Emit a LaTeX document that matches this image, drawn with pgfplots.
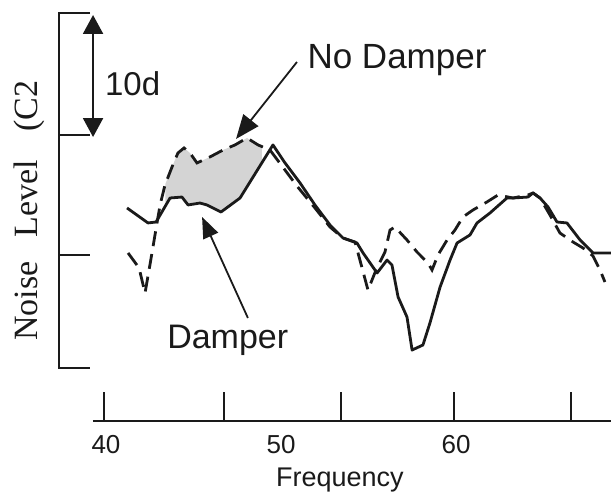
\documentclass[border=0pt]{standalone}
\usepackage{fontspec}
\setmainfont{Liberation Serif}
\setsansfont{Liberation Sans}
\usepackage{pgfplots}
\pgfplotsset{compat=1.18}
\usepgfplotslibrary{fillbetween}
\usetikzlibrary{arrows.meta}

\definecolor{ink}{RGB}{26,26,26}
\definecolor{gapgray}{RGB}{212,212,212}

\begin{document}
\begin{tikzpicture}
\begin{axis}[
  scale only axis,
  width=518bp, height=408bp,
  xmin=39.257, xmax=68.857,
  ymin=-13.833, ymax=20.167,
  axis x line=bottom, axis y line=none,
  axis line style={-, line width=2.2bp, ink},
  clip=false,
  tick align=inside,
  major tick length=29bp,
  xtick={39.89,46.74,53.43,59.89,66.57},
  xticklabels={,,,,},
  xtick style={line width=2.2bp, ink},
  extra x ticks={40,50,60},
  extra x tick labels={40,50,60},
  extra x tick style={major tick length=0pt},
  xticklabel style={font=\sffamily\fontsize{26bp}{30bp}\selectfont, text=ink,
    inner sep=0pt, anchor=north, yshift=-14bp},
  ytick=\empty,
]
\addplot[name path=nodamp, ink, line width=2.8bp, dash pattern=on 15bp off 8bp] coordinates {
  (41.26,0.17) (41.89,-1.08) (42.23,-3.17) (42.51,-0.83) (42.80,1.67)
  (43.09,4.17) (43.37,5.83) (43.77,7.33) (44.11,8.50) (44.46,8.92)
  (44.80,8.50) (45.20,7.67) (45.94,8.17) (46.69,8.75) (47.37,9.17)
  (48.06,9.75) (48.69,9.17) (49.37,8.75) (50.23,7.08) (50.91,5.75)
  (51.94,3.92) (52.80,2.33) (53.54,1.42) (54.23,1.08) (54.51,-0.42)
  (54.97,-2.92) (55.43,-1.25) (55.94,0.25) (56.23,2.08) (56.51,2.33)
  (57.20,1.25) (57.77,0.25) (58.40,-0.67) (58.63,-1.25) (58.97,0.00)
  (59.49,1.25) (59.94,2.08) (60.40,3.17) (60.97,3.75) (61.77,4.42)
  (62.40,5.00) (63.26,4.75) (64.11,5.00) (64.40,5.17) (64.80,4.75)
  (65.37,3.33) (65.94,1.83) (66.69,1.08) (67.26,0.58) (67.83,-0.08)
  (68.23,-1.25) (68.51,-2.25)
};
\addplot[name path=damp, ink, line width=2.8bp, line join=round] coordinates {
  (41.20,3.92) (42.40,2.67) (42.86,2.75) (43.66,4.75) (44.34,4.83)
  (44.69,4.17) (45.37,4.33) (45.77,4.17) (46.57,3.58) (47.66,4.75)
  (49.54,9.17) (50.23,7.67) (51.09,6.00) (51.94,4.17) (52.80,2.50)
  (53.54,1.42) (54.34,1.00) (54.69,0.17) (55.49,-1.50) (56.06,-0.42)
  (56.34,-0.83) (56.69,-3.50) (57.20,-5.17) (57.49,-7.92) (58.11,-7.50)
  (58.51,-5.67) (59.09,-2.67) (59.66,-0.42) (60.06,1.00) (60.80,1.67)
  (61.20,2.67) (61.94,3.50) (62.91,4.75) (63.26,4.75) (64.11,4.83)
  (64.40,5.17) (64.80,4.75) (65.26,4.00) (65.77,2.75) (66.34,2.67)
  (67.09,1.25) (67.83,0.17) (68.86,0.17)
};
% shaded gap between the two responses
\addplot[fill=gapgray, draw=none] fill between[of=nodamp and damp, soft clip={domain=43.4:48.9}];

% level bracket on the left
\draw[ink, line width=2.2bp]
  (axis cs:39.09,20.17) -- (axis cs:37.31,20.17) -- (axis cs:37.31,-9.42) -- (axis cs:39.09,-9.42);
\draw[ink, line width=2.2bp] (axis cs:37.31,10) -- (axis cs:39.09,10);
\draw[ink, line width=2.2bp] (axis cs:37.31,0) -- (axis cs:39.09,0);

% 10 dB scale arrow
\draw[ink, line width=2.2bp, {Triangle[length=19bp,width=20bp]}-{Triangle[length=19bp,width=20bp]}]
  (axis cs:39.26,20.0) -- (axis cs:39.26,9.83);
\node[font=\sffamily\fontsize{33bp}{38bp}\selectfont, text=ink, anchor=base west, inner sep=0pt]
  at (axis cs:39.94,13.33) {10d};

% callouts
\draw[ink, line width=1.8bp, -{Triangle[length=24bp,width=19bp]}]
  (axis cs:50.91,16.08) -- (axis cs:47.43,9.67);
\node[font=\sffamily\fontsize{35bp}{40bp}\selectfont, text=ink, anchor=base, inner sep=0pt]
  at (axis cs:56.63,15.58) {No Damper};
\draw[ink, line width=1.8bp, -{Triangle[length=21bp,width=16bp]}]
  (axis cs:48.11,-5.25) -- (axis cs:45.49,3.17);
\node[font=\sffamily\fontsize{34bp}{40bp}\selectfont, text=ink, anchor=base west, inner sep=0pt]
  at (axis cs:43.49,-7.75) {Damper};

% axis titles
\node[font=\sffamily\fontsize{27bp}{32bp}\selectfont, text=ink, anchor=base, inner sep=0pt]
  at (axis cs:53.37,-19.33) {Frequency};
\begin{scope}[every node/.style={font=\fontsize{34bp}{40bp}\selectfont, text=ink, rotate=90, anchor=base, inner sep=0pt}]
  \node at (axis cs:36.06,-3.83) {Noise};
  \node at (axis cs:36.06,4.67) {Level};
  \node at (axis cs:36.06,12.42) {(C2};
\end{scope}

\coordinate (bbsw) at (axis cs:33.943,-19.917);
\coordinate (bbne) at (axis cs:68.857,21.25);
\end{axis}
\pgfresetboundingbox
\useasboundingbox (bbsw) rectangle (bbne);
\end{tikzpicture}
\end{document}
